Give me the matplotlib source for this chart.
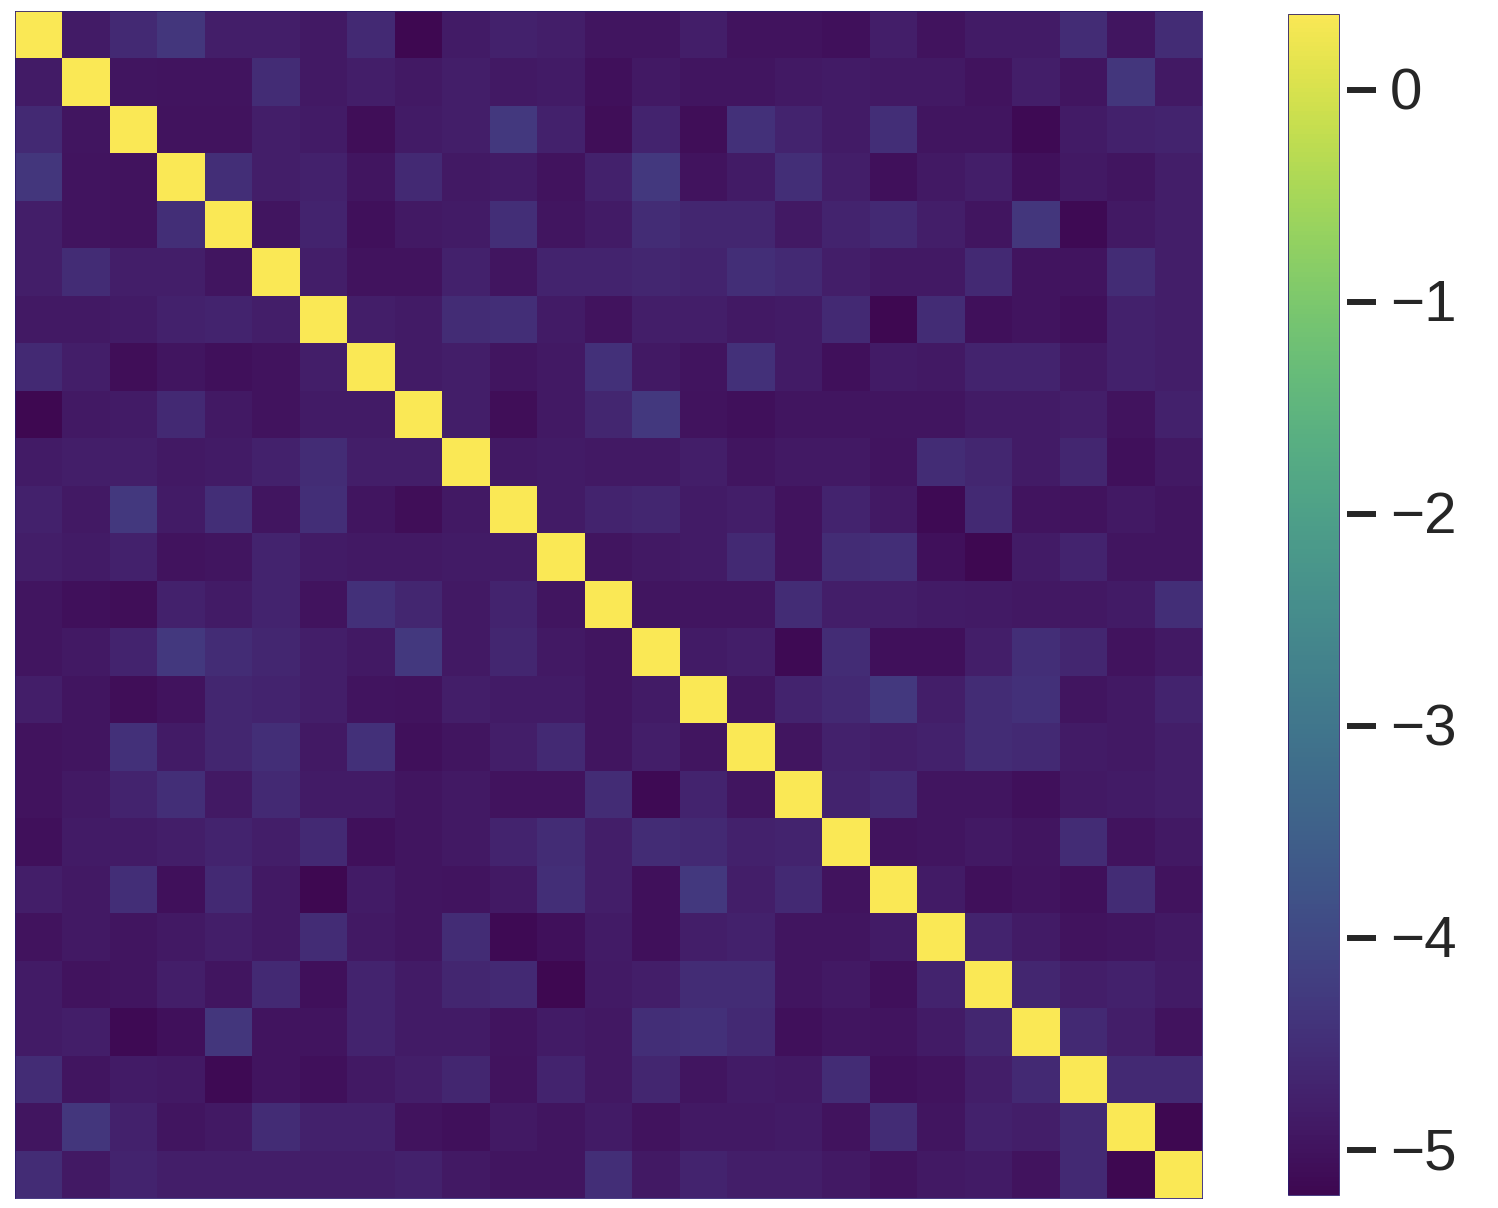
import numpy as np
import matplotlib
matplotlib.use('Agg')
import matplotlib.pyplot as plt
from matplotlib.colors import ListedColormap
from matplotlib.transforms import ScaledTranslation

plt.rcParams['font.family'] = ['Liberation Sans', 'DejaVu Sans']

DIAGONAL = 0.36
VMIN = -5.21
VMAX = 0.36
CBAR_TICKS = [0, -1, -2, -3, -4, -5]

# upper triangle of the symmetric matrix, one list per row, diagonal left out
UPPER_ROWS = [
    [-4.85, -4.6, -4.35, -4.8, -4.8, -4.9, -4.6, -5.2, -4.85, -4.75, -4.8, -4.95, -4.95, -4.8, -5.0, -5.0, -5.05, -4.8, -5.0, -4.85, -4.85, -4.55, -4.95, -4.55],
    [-4.95, -4.98, -4.98, -4.55, -4.9, -4.8, -4.9, -4.8, -4.9, -4.85, -5.05, -4.9, -4.95, -4.95, -4.9, -4.85, -4.9, -4.9, -5.0, -4.8, -4.95, -4.35, -4.9],
    [-5.0, -5.0, -4.8, -4.85, -5.1, -4.85, -4.8, -4.3, -4.75, -5.1, -4.7, -5.1, -4.45, -4.7, -4.85, -4.5, -4.95, -4.95, -5.15, -4.85, -4.75, -4.7],
    [-4.5, -4.8, -4.75, -4.95, -4.6, -4.9, -4.85, -5.0, -4.75, -4.3, -5.0, -4.85, -4.5, -4.8, -5.05, -4.9, -4.8, -5.05, -4.9, -4.95, -4.8],
    [-4.95, -4.7, -5.05, -4.9, -4.85, -4.5, -4.95, -4.85, -4.55, -4.65, -4.65, -4.9, -4.7, -4.6, -4.8, -4.95, -4.35, -5.15, -4.9, -4.8],
    [-4.8, -5.0, -5.0, -4.75, -4.95, -4.7, -4.7, -4.65, -4.7, -4.5, -4.6, -4.8, -4.9, -4.9, -4.6, -4.98, -4.98, -4.55, -4.8],
    [-4.8, -4.85, -4.55, -4.5, -4.85, -5.0, -4.8, -4.8, -4.9, -4.85, -4.6, -5.2, -4.55, -5.05, -4.98, -5.05, -4.75, -4.8],
    [-4.85, -4.8, -4.95, -4.9, -4.45, -4.9, -4.98, -4.45, -4.85, -5.05, -4.85, -4.9, -4.7, -4.7, -4.9, -4.75, -4.8],
    [-4.8, -5.1, -4.9, -4.65, -4.3, -5.0, -5.05, -4.97, -4.95, -4.95, -4.95, -4.85, -4.85, -4.8, -5.0, -4.75],
    [-4.9, -4.85, -4.9, -4.9, -4.8, -4.95, -4.9, -4.9, -4.98, -4.55, -4.65, -4.85, -4.65, -5.05, -4.9],
    [-4.85, -4.7, -4.65, -4.85, -4.8, -5.0, -4.7, -4.9, -5.15, -4.6, -4.98, -5.0, -4.9, -4.95],
    [-4.95, -4.9, -4.85, -4.6, -5.0, -4.55, -4.5, -5.05, -5.2, -4.85, -4.7, -4.95, -4.95],
    [-4.97, -4.97, -4.95, -4.55, -4.8, -4.8, -4.85, -4.88, -4.92, -4.92, -4.85, -4.5],
    [-4.85, -4.8, -5.15, -4.55, -5.05, -5.05, -4.8, -4.5, -4.65, -5.0, -4.9],
    [-4.95, -4.7, -4.6, -4.3, -4.8, -4.55, -4.45, -4.95, -4.9, -4.7],
    [-4.95, -4.75, -4.8, -4.75, -4.55, -4.6, -4.85, -4.9, -4.8],
    [-4.7, -4.6, -4.95, -4.95, -5.05, -4.9, -4.85, -4.8],
    [-5.0, -4.95, -4.9, -4.95, -4.55, -5.0, -4.9],
    [-4.85, -5.05, -4.98, -5.05, -4.55, -5.0],
    [-4.7, -4.85, -5.0, -4.95, -4.9],
    [-4.65, -4.8, -4.75, -4.85],
    [-4.6, -4.8, -5.0],
    [-4.6, -4.6],
    [-5.2],
]


def build_matrix():
    n = len(UPPER_ROWS) + 1
    mat = np.full((n, n), DIAGONAL)
    for i, row in enumerate(UPPER_ROWS):
        mat[i, i + 1:] = row
        mat[i + 1:, i] = row
    return mat


def p3_viridis():
    # the reference looks like a wide-gamut screenshot, so re-encode viridis that way
    rgb = plt.get_cmap('viridis')(np.linspace(0, 1, 256))[:, :3]
    lin = np.where(rgb <= 0.04045, rgb / 12.92, ((rgb + 0.055) / 1.055) ** 2.4)
    to_p3 = np.array([[0.8225, 0.1774, 0.0],
                      [0.0332, 0.9669, 0.0],
                      [0.0171, 0.0724, 0.9108]])
    lin = np.clip(lin @ to_p3.T, 0, 1)
    enc = np.where(lin <= 0.0031308, lin * 12.92, 1.055 * lin ** (1 / 2.4) - 0.055)
    return ListedColormap(enc)


def main():
    W, H = 1498, 1208
    fig = plt.figure(figsize=(W / 100, H / 100), dpi=100)

    # axes boxes in pixels of the target
    ax = fig.add_axes([15 / W, 1 - 1198 / H, 1187 / W, 1187 / H])
    cax = fig.add_axes([1288 / W, 1 - 1195 / H, 51 / W, 1181 / H])

    mat = build_matrix()
    mesh = ax.pcolormesh(mat, cmap=p3_viridis(), vmin=VMIN, vmax=VMAX)
    ax.invert_yaxis()
    ax.set_xticks([])
    ax.set_yticks([])
    for spine in ax.spines.values():
        spine.set_color('#2a1a6e')
        spine.set_linewidth(0.6)

    cbar = fig.colorbar(mesh, cax=cax)
    cbar.set_ticks(CBAR_TICKS)
    cbar.outline.set_edgecolor('#2a1a6e')
    cbar.outline.set_linewidth(0.6)
    cax.spines['right'].set_position(('outward', 6))
    cax.tick_params(axis='y', length=21, width=4.3, color='#262626',
                    labelcolor='#262626', labelsize=42, pad=9.5)

    # labels sit about 2 px higher than matplotlib centres them
    nudge = ScaledTranslation(0, 2 / 100, fig.dpi_scale_trans)
    for label in cax.get_yticklabels():
        label.set_transform(label.get_transform() + nudge)

    fig.savefig('out.png', dpi=100)


if __name__ == "__main__":
    main()
